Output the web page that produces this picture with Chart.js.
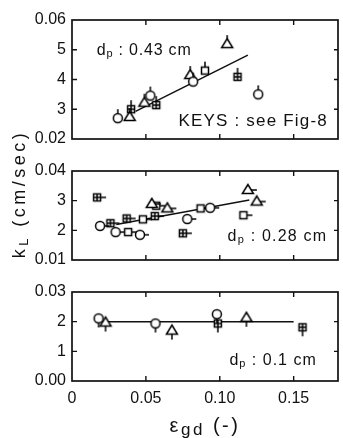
<!DOCTYPE html>
<html>
<head>
<meta charset="utf-8">
<script src="https://cdn.jsdelivr.net/npm/chart.js@4"></script>
<style>
  html, body { margin: 0; background: #fff; }
  #wrap { position: relative; width: 343px; height: 438px; }
  #wrap canvas { position: absolute; left: 0; top: 0; }
</style>
</head>
<body>
<div id="wrap">
  <canvas id="c1" width="343" height="438"></canvas>
  <canvas id="c2" width="343" height="438"></canvas>
  <canvas id="c3" width="343" height="438"></canvas>
</div>
<script>
// gas holdup (x) shared by all three panels
const xTicks = [0, 0.05, 0.10, 0.15];
const xTickLabels = ['0', '0.05', '0.10', '0.15'];

// dp = 0.43 cm
const p1Ticks = [0.02, 0.03, 0.04, 0.05, 0.06];
const p1TickLabels = ['0.02', '3', '4', '5', '0.06'];
const p1Circles = [[0.031, 0.0270], [0.053, 0.0346], [0.082, 0.0393], [0.126, 0.0350]];
const p1Triangles = [[0.039, 0.0274], [0.049, 0.0322], [0.080, 0.0415], [0.105, 0.0519]];
const p1Squares = [[0.090, 0.0430]];
const p1Crossed = [[0.040, 0.0300], [0.057, 0.0314], [0.112, 0.0409]];
const p1Fit = [[0.043, 0.0293], [0.119, 0.0482]];

// dp = 0.28 cm
const p2Ticks = [0.01, 0.02, 0.03, 0.04];
const p2TickLabels = ['0.01', '2', '3', '0.04'];
const p2Circles = [[0.019, 0.0215], [0.0295, 0.0194], [0.046, 0.0185], [0.078, 0.0238], [0.0935, 0.0276]];
const p2Triangles = [[0.054, 0.0289], [0.0645, 0.0274], [0.119, 0.0336], [0.125, 0.0297]];
const p2Squares = [[0.038, 0.0194], [0.048, 0.0237], [0.057, 0.0283], [0.087, 0.0274], [0.116, 0.0251]];
const p2Crossed = [[0.017, 0.0311], [0.026, 0.0224], [0.037, 0.0240], [0.056, 0.0248], [0.075, 0.0190]];
const p2Fit = [[0.030, 0.0220], [0.120, 0.0302]];

// dp = 0.1 cm
const p3Ticks = [0, 0.01, 0.02, 0.03];
const p3TickLabels = ['0.00', '1', '2', '0.03'];
const p3Circles = [[0.018, 0.0211], [0.0565, 0.0194], [0.098, 0.0225]];
const p3Triangles = [[0.0227, 0.0197], [0.0676, 0.0170], [0.118, 0.0213]];
const p3Squares = [];
const p3Crossed = [[0.0987, 0.0194], [0.156, 0.0181]];
const p3Fit = [[0.020, 0.0200], [0.150, 0.0200]];

const INK = '#111';
const FONT = '"Liberation Sans", Arial, sans-serif';

// hollow symbol with a short error tick, drawn once into a small canvas
function marker(shape, tail) {
  const s = 24, c = s / 2;
  const cv = document.createElement('canvas');
  cv.width = cv.height = s;
  const g = cv.getContext('2d');
  g.strokeStyle = '#000';
  g.fillStyle = '#fff';
  g.lineWidth = 1.5;
  g.beginPath();
  if (tail === 'up') { g.moveTo(c, c - 3); g.lineTo(c, c - 9); }
  if (tail === 'down') { g.moveTo(c, c + 3); g.lineTo(c, c + 9); }
  if (tail === 'right') { g.moveTo(c + 3, c); g.lineTo(c + 9, c); }
  g.stroke();
  g.beginPath();
  if (shape === 'circle') {
    g.arc(c, c, 4.5, 0, Math.PI * 2);
  } else if (shape === 'triangle') {
    g.moveTo(c, c - 5.5);
    g.lineTo(c + 5.5, c + 3.5);
    g.lineTo(c - 5.5, c + 3.5);
    g.closePath();
  } else {
    g.rect(c - 3.5, c - 3.5, 7, 7);
  }
  g.fill();
  g.stroke();
  if (shape === 'crossed') {
    g.beginPath();
    g.moveTo(c - 3.5, c); g.lineTo(c + 3.5, c);
    g.moveTo(c, c - 3.5); g.lineTo(c, c + 3.5);
    g.stroke();
  }
  return cv;
}

const pts = list => list.map(([x, y]) => ({ x, y }));

// text with subscript pieces: parts = [[text, isSub], ...]
function partsWidth(ctx, parts, size, spacing, subScale) {
  let w = 0;
  parts.forEach(([t, sub]) => {
    ctx.font = `${sub ? Math.round(size * subScale) : size}px ${FONT}`;
    ctx.letterSpacing = spacing + 'px';
    w += ctx.measureText(t).width;
  });
  return w;
}
function drawParts(ctx, x, y, parts, size, spacing, subScale = 0.7) {
  let cx = x;
  ctx.textBaseline = 'middle';
  ctx.textAlign = 'left';
  ctx.fillStyle = INK;
  parts.forEach(([t, sub]) => {
    ctx.font = `${sub ? Math.round(size * subScale) : size}px ${FONT}`;
    ctx.letterSpacing = spacing + 'px';
    ctx.fillText(t, cx, y + (sub ? size * 0.22 : 0));
    cx += ctx.measureText(t).width;
  });
  ctx.letterSpacing = '0px';
}

const framePlugin = {
  id: 'frame',
  beforeDatasetsDraw(chart) {
    const { ctx, chartArea: a, scales: { x, y } } = chart;
    ctx.save();
    ctx.strokeStyle = INK;
    ctx.lineWidth = 1.7;
    ctx.strokeRect(a.left, a.top, a.right - a.left, a.bottom - a.top);
    ctx.lineWidth = 1.4;
    ctx.beginPath();
    xTicks.forEach(v => {
      if (v <= x.min) return;
      const px = x.getPixelForValue(v);
      ctx.moveTo(px, a.top); ctx.lineTo(px, a.top + 5);
      ctx.moveTo(px, a.bottom); ctx.lineTo(px, a.bottom - 5);
    });
    y.ticks.forEach(t => {
      if (t.value <= y.min || t.value >= y.max) return;
      const py = y.getPixelForValue(t.value);
      ctx.moveTo(a.left, py); ctx.lineTo(a.left + 5, py);
      ctx.moveTo(a.right, py); ctx.lineTo(a.right - 4, py);
    });
    ctx.stroke();
    ctx.restore();
  }
};

function makePanel(id, cfg) {
  const groups = [['circle', cfg.circles], ['triangle', cfg.triangles], ['square', cfg.squares], ['crossed', cfg.crossed]];
  const datasets = groups.filter(g => g[1].length).map(([shape, list]) => ({
    type: 'scatter',
    data: pts(list),
    pointStyle: marker(shape, cfg.tail),
    order: 1
  }));
  datasets.push({
    type: 'line',
    data: pts(cfg.fit),
    borderColor: INK,
    borderWidth: 1.5,
    pointRadius: 0,
    order: 2
  });

  const textPlugin = {
    id: 'notes',
    afterDraw(chart) {
      const { ctx, scales: { x, y } } = chart;
      ctx.save();
      cfg.notes.forEach(n => {
        drawParts(ctx, x.getPixelForValue(n.x), y.getPixelForValue(n.y), n.parts, n.size, n.spacing);
      });
      if (cfg.axisTitles) {
        const a = chart.chartArea;
        const xt = [['\u03b5'], ['gd', true], [' (-)']];
        const xw = partsWidth(ctx, xt, 20, 2.5, 0.85);
        drawParts(ctx, (a.left + a.right) / 2 - xw / 2, 426, xt, 20, 2.5, 0.85);
        const yt = [['k'], ['L', true], [' (cm/sec)']];
        const yw = partsWidth(ctx, yt, 18, 3.5, 0.7);
        ctx.translate(20, 194);
        ctx.rotate(-Math.PI / 2);
        drawParts(ctx, -yw / 2, 0, yt, 18, 3.5);
      }
      ctx.restore();
    }
  };

  return new Chart(document.getElementById(id), {
    data: { datasets },
    options: {
      responsive: false,
      animation: false,
      layout: { padding: { top: cfg.top, bottom: cfg.bottom, left: 0, right: 1 } },
      plugins: { legend: { display: false }, tooltip: { enabled: false } },
      scales: {
        x: {
          type: 'linear',
          min: 0,
          max: 0.18,
          display: cfg.showX,
          afterBuildTicks: s => { s.ticks = xTicks.map(value => ({ value })); },
          afterFit: s => { if (cfg.showX) s.height = 57; },
          grid: { display: false, drawTicks: false },
          border: { display: false },
          ticks: {
            padding: 8,
            color: INK,
            font: { family: FONT, size: 16 },
            maxRotation: 0,
            callback: (v, i) => xTickLabels[i]
          }
        },
        y: {
          type: 'linear',
          min: cfg.yTicks[0],
          max: cfg.yTicks[cfg.yTicks.length - 1],
          afterBuildTicks: s => { s.ticks = cfg.yTicks.map(value => ({ value })); },
          afterFit: s => { s.width = 72; },
          grid: { display: false, drawTicks: false },
          border: { display: false },
          ticks: {
            padding: 6,
            color: INK,
            font: { family: FONT, size: 16 },
            callback: (v, i) => cfg.yLabels[i]
          }
        }
      }
    },
    plugins: [framePlugin, textPlugin]
  });
}

makePanel('c1', {
  top: 20, bottom: 299, showX: false, tail: 'up',
  yTicks: p1Ticks, yLabels: p1TickLabels,
  circles: p1Circles, triangles: p1Triangles, squares: p1Squares, crossed: p1Crossed, fit: p1Fit,
  notes: [
    { x: 0.0167, y: 0.0496, size: 16, spacing: 0.8, parts: [['d'], ['p', true], [' : 0.43 cm']] },
    { x: 0.072, y: 0.0260, size: 17, spacing: 1.2, parts: [['KEYS : see Fig-8']] }
  ]
});

makePanel('c2', {
  top: 171, bottom: 178, showX: false, tail: 'right',
  yTicks: p2Ticks, yLabels: p2TickLabels,
  circles: p2Circles, triangles: p2Triangles, squares: p2Squares, crossed: p2Crossed, fit: p2Fit,
  notes: [
    { x: 0.1053, y: 0.0178, size: 16, spacing: 1.2, parts: [['d'], ['p', true], [' : 0.28 cm']] }
  ]
});

makePanel('c3', {
  top: 292, bottom: 0, showX: true, tail: 'down', axisTitles: true,
  yTicks: p3Ticks, yLabels: p3TickLabels,
  circles: p3Circles, triangles: p3Triangles, squares: p3Squares, crossed: p3Crossed, fit: p3Fit,
  notes: [
    { x: 0.1065, y: 0.0068, size: 16, spacing: 1.0, parts: [['d'], ['p', true], [' : 0.1 cm']] }
  ]
});
</script>
</body>
</html>
